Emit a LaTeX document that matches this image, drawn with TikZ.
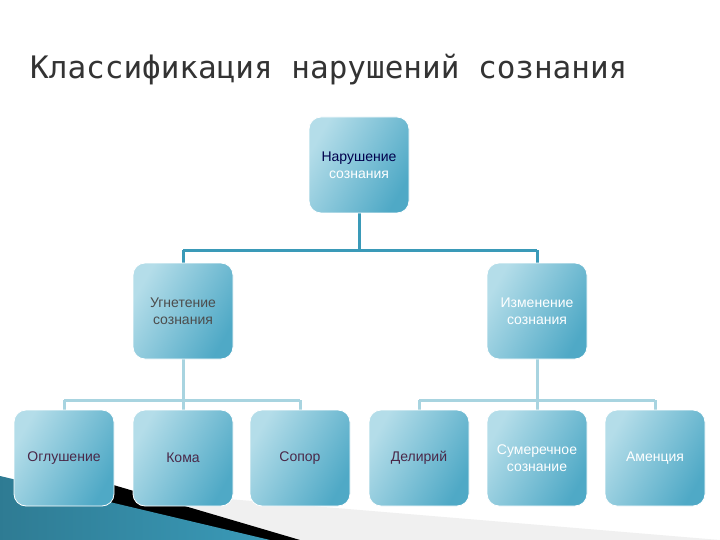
\documentclass[tikz,border=0pt]{standalone}
\usepackage{fontspec}
\setmainfont{Liberation Sans}
\newfontfamily\titlefont{DejaVu Sans Mono}
\begin{document}
\begin{tikzpicture}[x=1pt,y=-1pt,
  bx/.style={draw=white,line width=0.8pt,rounded corners=12pt,minimum width=100pt,minimum height=96pt,
    align=center,font=\fontsize{14}{17}\selectfont,inner sep=2pt,
    shading=axis,left color=bluelight,right color=bluedark,shading angle=60},
  dk/.style={draw=linedark,line width=3pt},
  lt/.style={draw=linelight,line width=3pt}]
\definecolor{bluelight}{HTML}{B4DDE9}
\definecolor{bluedark}{HTML}{4FA9C6}
\definecolor{linedark}{HTML}{3A9AB8}
\definecolor{linelight}{HTML}{A8D4E0}
\definecolor{txtdark}{HTML}{4A2848}
\useasboundingbox (0,0) rectangle (720,540);
\fill[white] (0,0) rectangle (720,540);
% decoration
\fill[gray!12] (120,490) -- (720,540) -- (120,540) -- cycle;
\fill[black] (110,484) -- (300,540) -- (110,540) -- cycle;
\shade[left color=linedark!80!black,right color=linedark] (0,476) -- (270,540) -- (0,540) -- cycle;
\node[anchor=west,text=black!80,inner sep=0pt,font=\titlefont\fontsize{31}{34}\selectfont] (title) at (30,70) {Классификация нарушений сознания};
% connectors
\coordinate (j0) at (359,250);
\coordinate (jl) at (183,250);
\coordinate (jr) at (537,250);
\coordinate (b1) at (64,400);
\coordinate (b3) at (300,400);
\coordinate (b4) at (419,400);
\coordinate (b6) at (655,400);
\coordinate (bl) at (183,400);
\coordinate (br) at (537,400);
\draw[dk] (359,200) -- (j0);
\draw[dk] (jl) -- (jr);
\draw[dk] (jl) -- (183,280);
\draw[dk] (jr) -- (537,280);
\draw[lt] (183,340) -- (bl);
\draw[lt] (537,340) -- (br);
\draw[lt] (b1) -- (b3);
\draw[lt] (b4) -- (b6);
\draw[lt] (b1) -- (64,430);
\draw[lt] (bl) -- (183,430);
\draw[lt] (b3) -- (300,430);
\draw[lt] (b4) -- (419,430);
\draw[lt] (br) -- (537,430);
\draw[lt] (b6) -- (655,430);
% nodes
\node[bx] (top) at (359,165) {\textcolor{blue!30!black}{Нарушение}\\\textcolor{white}{сознания}};
\node[bx,text=black!70] (ml) at (183,311) {Угнетение\\сознания};
\node[bx,text=white] (mr) at (537,311) {Изменение\\сознания};
\node[bx,text=txtdark] (n1) at (64,458) {Оглушение};
\node[bx,text=txtdark] (n2) at (183,458) {Кома};
\node[bx,text=txtdark] (n3) at (300,458) {Сопор};
\node[bx,text=txtdark] (n4) at (419,458) {Делирий};
\node[bx,text=white] (n5) at (537,458) {Сумеречное\\сознание};
\node[bx,text=white] (n6) at (655,458) {Аменция};
\end{tikzpicture}
\end{document}
